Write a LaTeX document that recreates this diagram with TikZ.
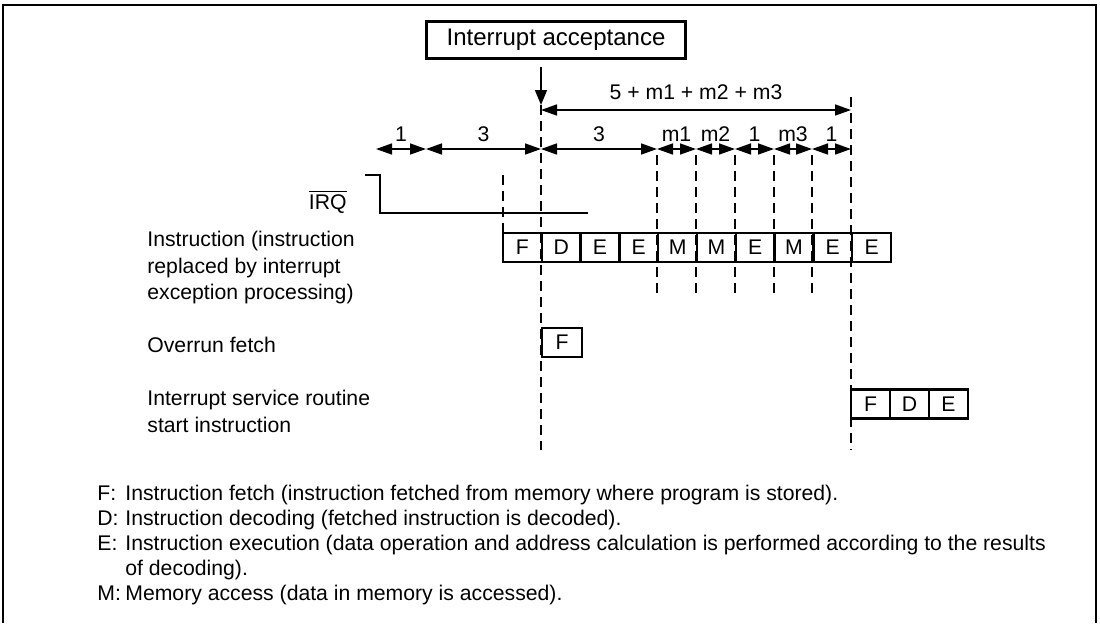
\documentclass[tikz,border=0pt]{standalone}
\usepackage{fontspec}
\setmainfont{Liberation Sans}
\usetikzlibrary{arrows.meta,positioning}

\begin{document}
\begin{tikzpicture}[
  x=0.5pt, y=-0.5pt,
  font=\fontsize{10.6}{13.3}\selectfont,
  accbox/.style={draw, line width=1.1pt, minimum width=129.5pt, minimum height=18.5pt, inner sep=0pt, font=\fontsize{12}{14}\selectfont},
  cell/.style={draw, line width=1.2pt, minimum width=19.4pt, minimum height=14.5pt, inner sep=0pt},
  guide/.style={dash pattern=on 5pt off 3pt, line width=0.6pt},
  dimarrow/.style={{Triangle[length=8pt,width=5.5pt]}-{Triangle[length=8pt,width=5.5pt]}, line width=0.8pt},
  downarrow/.style={-{Triangle[length=7.5pt,width=6pt]}, line width=0.8pt},
  rowlabel/.style={anchor=north west, align=left, inner sep=0pt},
  dimlabel/.style={above, inner sep=3.5pt}
]
\useasboundingbox (0,0) rectangle (1100,623);
% frame (open at the bottom)
\draw[line width=1pt] (3,623) -- (3,5) -- (1096,5) -- (1096,623);

% interrupt acceptance
\node[accbox] (acc) at (556,40) {Interrupt acceptance};
\coordinate (tA) at (541,105);
\coordinate (tZ) at (851,110);
\draw[downarrow] ([yshift=-3.5pt]acc.south -| tA) -- (tA);
\draw[dimarrow] (tA |- tZ) -- node[dimlabel, inner sep=5pt] {5 + m1 + m2 + m3} (tZ);

% state counts
\foreach \xx [count=\k] in {376,426,541,657,696,735,774,812,851}
  \coordinate (d\k) at (\xx,149);
\foreach \a/\b/\t in {1/2/1, 2/3/3, 3/4/3, 4/5/m1, 5/6/m2, 6/7/1, 7/8/m3, 8/9/1}
  \draw[dimarrow] (d\a) -- node[dimlabel] {\t} (d\b);

% guide lines
\draw[guide] (541,105) -- (541,450);
\draw[guide] (851,97) -- (851,450);
\draw[guide] (503,175) -- (503,233);
\foreach \xx in {657,696,735,774,812}
  \draw[guide] (\xx,155) -- (\xx,298);

% IRQ
\node[anchor=east, inner sep=0pt] (irq) at (347,202) {$\overline{\mbox{IRQ}}$};
\draw[line width=1.2pt] (365,175) -- (380,175) -- (380,213) -- (588,213);

% instruction row
\node[rowlabel] (inslbl) at (147,231) {Instruction (instruction\\replaced by interrupt\\exception processing)};
\foreach \l [count=\i] in {F,D,E,E,M,M,E,M,E,E}
  \node[cell] (ins\i) at (483.6+38.8*\i,247.5) {\l};

% overrun fetch
\node[anchor=west, inner sep=0pt] (ovrlbl) at (147,345) {Overrun fetch};
\node[cell, minimum width=20pt] (ovr) at (562,342.5) {F};

% interrupt service routine
\node[rowlabel] (isrlbl) at (147,390) {Interrupt service routine\\start instruction};
\foreach \l [count=\i] in {F,D,E}
  \node[cell] (isr\i) at (831.5+39*\i,404) {\l};

% legend
\node[anchor=north west, inner sep=0pt, font=\fontsize{10.6}{12.6}\selectfont] (legend) at (97,482) {%
  \begin{tabular}{@{}p{14pt}@{}l@{}}
  F: & Instruction fetch (instruction fetched from memory where program is stored).\\
  D: & Instruction decoding (fetched instruction is decoded).\\
  E: & Instruction execution (data operation and address calculation is performed according to the results\\
     & of decoding).\\
  M: & Memory access (data in memory is accessed).
  \end{tabular}};
\end{tikzpicture}
\end{document}
